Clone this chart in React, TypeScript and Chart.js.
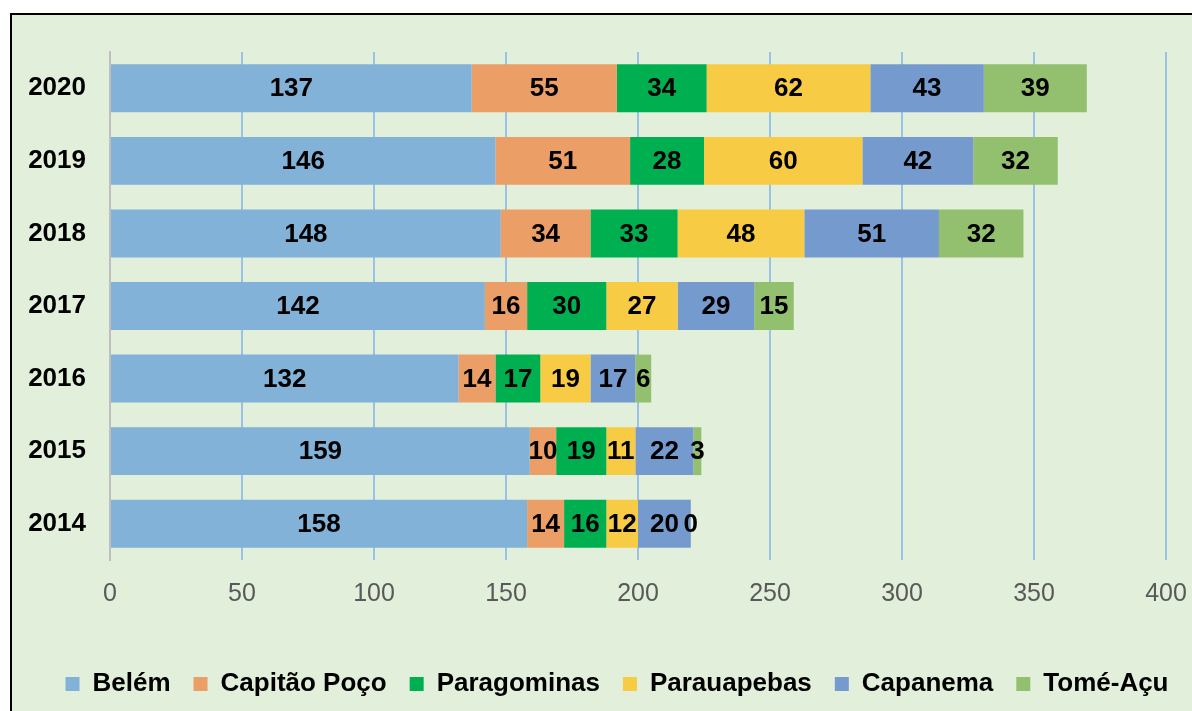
import React, { useEffect, useRef } from "react";
import { Chart, registerables } from "chart.js";

Chart.register(...registerables);

const years = ["2020", "2019", "2018", "2017", "2016", "2015", "2014"];
const belem = [137, 146, 148, 142, 132, 159, 158];
const capitaoPoco = [55, 51, 34, 16, 14, 10, 14];
const paragominas = [34, 28, 33, 30, 17, 19, 16];
const parauapebas = [62, 60, 48, 27, 19, 11, 12];
const capanema = [43, 42, 51, 29, 17, 22, 20];
const tomeAcu = [39, 32, 32, 15, 6, 3, 0];

const seriesNames = ["Belém", "Capitão Poço", "Paragominas", "Parauapebas", "Capanema", "Tomé-Açu"];
const seriesValues = [belem, capitaoPoco, paragominas, parauapebas, capanema, tomeAcu];
const seriesColors = ["#82B2D7", "#EB9E66", "#00B050", "#F8CB45", "#749ACE", "#93C06F"];

const FONT = "'Liberation Sans', Arial, sans-serif";

const labelPlugin = {
  id: "segLabels",
  afterDraw(chart: any) {
    const ctx = chart.ctx;
    ctx.save();
    ctx.font = `bold 26px ${FONT}`;
    ctx.fillStyle = "#000";
    ctx.textAlign = "center";
    ctx.textBaseline = "middle";
    chart.data.datasets.forEach((ds: any, di: number) => {
      const meta = chart.getDatasetMeta(di);
      meta.data.forEach((el: any, i: number) => {
        const v = ds.data[i];
        const cx = (el.x + el.base) / 2;
        ctx.fillText(String(v), cx, el.y + 1);
      });
    });
    ctx.restore();
  },
};

export default function App() {
  const ref = useRef<HTMLCanvasElement | null>(null);
  useEffect(() => {
    if (!ref.current) return;
    const chart = new Chart(ref.current, {
      type: "bar",
      data: {
        labels: years,
        datasets: seriesNames.map((n, i) => ({
          label: n,
          data: seriesValues[i],
          backgroundColor: seriesColors[i],
          borderWidth: 0,
          barPercentage: 0.66,
          categoryPercentage: 1,
        })),
      },
      options: {
        indexAxis: "y",
        animation: false,
        responsive: true,
        maintainAspectRatio: false,
        layout: { padding: { left: 0, right: 0, top: 37, bottom: 4 } },
        plugins: {
          legend: {
            position: "bottom",
            labels: {
              boxWidth: 14,
              boxHeight: 14,
              padding: 23,
              color: "#000",
              font: { family: FONT, size: 26, weight: "bold" },
            },
          },
          tooltip: { enabled: false },
        },
        scales: {
          x: {
            stacked: true,
            min: 0,
            max: 400,
            z: 1,
            ticks: {
              stepSize: 50,
              color: "#595959",
              padding: 19,
              font: { family: FONT, size: 25 },
            },
            grid: {
              drawTicks: false,
              lineWidth: 2,
              color: (c: any) => (c.tick && c.tick.value === 0 ? "rgba(0,0,0,0)" : "rgba(80,150,240,0.5)"),
            },
            border: { display: false },
            afterFit: (s: any) => {
              s.height = 88;
              s.paddingRight = 56;
            },
          },
          y: {
            stacked: true,
            ticks: {
              color: "#000",
              padding: 24,
              font: { family: FONT, size: 26, weight: "bold" },
            },
            grid: { display: false, drawTicks: false },
            border: { display: true, color: "#BFBFBF", width: 2 },
            afterFit: (s: any) => {
              s.width = 98;
              s.paddingTop = 0;
              s.paddingBottom = 0;
            },
          },
        },
      },
      plugins: [labelPlugin],
    });
    return () => chart.destroy();
  }, []);

  return (
    <div
      style={{
        position: "absolute",
        left: 10,
        top: 13,
        width: 1182,
        height: 698,
        overflow: "hidden",
        background: "#E2EFDA",
        borderTop: "2px solid #000",
        borderLeft: "2px solid #000",
        boxSizing: "border-box",
      }}
    >
      <div style={{ position: "absolute", left: 0, top: 0, width: 1210, height: 696 }}>
        <canvas ref={ref} />
      </div>
    </div>
  );
}
